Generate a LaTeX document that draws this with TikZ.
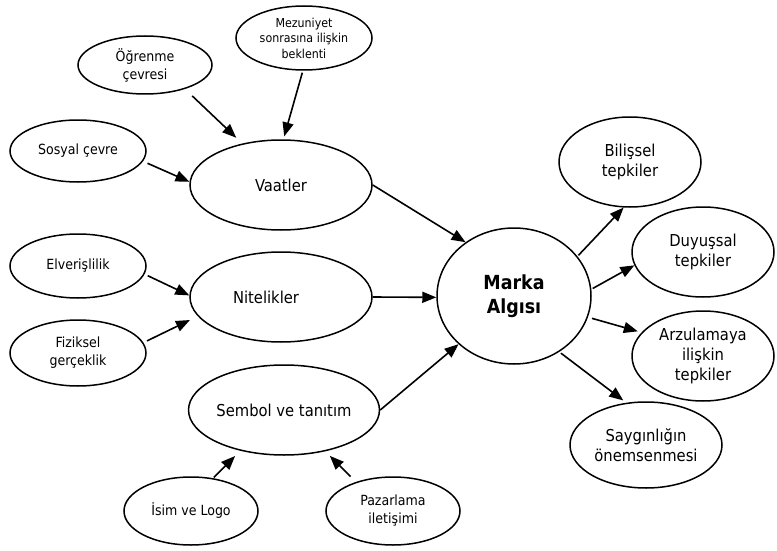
\documentclass[tikz,border=0pt]{standalone}
\usepackage{fontspec}
\setmainfont{DejaVu Sans Condensed}
\usetikzlibrary{shapes.geometric,arrows.meta}
\newcommand\szbig{\fontsize{16.4}{20}\selectfont}
\newcommand\szmid{\fontsize{14}{18}\selectfont}
\newcommand\szsmall{\fontsize{12.3}{15.5}\selectfont}
\newcommand\szmark{\fontsize{19.4}{24}\selectfont\bfseries}
\tikzset{
  ell/.style={draw, ellipse, line width=1.5pt, inner sep=0pt, align=center, font=\szbig},
  arr/.style={-{Triangle[length=14pt,width=11pt]}, line width=1.6pt},
}
\begin{document}
\begin{tikzpicture}[x=1pt,y=-1pt]
\useasboundingbox (0,0) rectangle (777,551);
% nodes
\node[ell, font=\szmid, minimum width=134pt, minimum height=58pt] (og) at (145,65) {Öğrenme\\çevresi};
\node[ell, font=\szsmall, minimum width=136pt, minimum height=64pt] (me) at (304,38) {Mezuniyet\\sonrasına ilişkin\\beklenti};
\node[ell, font=\szmid, minimum width=136pt, minimum height=62pt] (so) at (78,151) {Sosyal çevre};
\node[ell, minimum width=182pt, minimum height=90pt] (va) at (281,185) {Vaatler};
\node[ell, font=\szmid, minimum width=136pt, minimum height=64pt] (el) at (78,266) {Elverişlilik};
\node[ell, minimum width=182pt, minimum height=90pt] (ni) at (281,297) {Nitelikler\hspace*{30pt}};
\node[ell, font=\szmid, minimum width=136pt, minimum height=66pt] (fi) at (78,353) {Fiziksel\\gerçeklik};
\node[ell, minimum width=180pt, minimum height=90pt] (se) at (284,410) {Sembol ve tanıtım};
\node[ell, font=\szmid, minimum width=134pt, minimum height=68pt] (is) at (191,511) {İsim ve Logo};
\node[ell, font=\szmid, minimum width=134pt, minimum height=68pt] (pa) at (393,511) {Pazarlama\\iletişimi};
\node[ell, font=\szmark, minimum width=154pt, minimum height=136pt] (ma) at (514,296) {Marka\\Algısı};
\node[ell, minimum width=142pt, minimum height=90pt] (bi) at (630,162) {Bilişsel\\tepkiler};
\node[ell, minimum width=142pt, minimum height=90pt] (du) at (703,252) {Duyuşsal\\tepkiler};
\node[ell, minimum width=142pt, minimum height=90pt] (ar) at (703,356) {Arzulamaya\\ilişkin\\tepkiler};
\node[ell, minimum width=152pt, minimum height=86pt] (sa) at (646,445) {Saygınlığın\\önemsenmesi};
% connectors
\draw[arr, shorten <=10pt, shorten >=8.4pt] (og.-31.7) -- (va.133.1);
\draw[arr, shorten <=2pt, shorten >=3pt] (me.268.3) -- (va.87.6);
\draw[arr, shorten <=4.9pt] (so.-9.1) -- (va.178.7);
\draw[arr] (va.0.6) -- (ma.132.2);
\draw[arr, shorten <=3.5pt] (el.-7.4) -- (ni.179.4);
\draw[arr, shorten <=4pt, shorten >=8.7pt] (fi.9.1) -- (ni.193.7);
\draw[arr] (ni.0) -- (ma.181.5);
\draw[arr] (se.0) -- (ma.221.5);
\draw[arr, shorten <=1pt, shorten >=7.4pt] (is.56.3) -- (se.223.8);
\draw[arr, shorten <=7.6pt, shorten >=6.4pt] (pa.142.5) -- (se.-45.6);
\draw[arr, shorten <=1.3pt] (ma.32) -- (bi.262.4);
\draw[arr, shorten <=1.5pt] (ma.5.9) -- (du.191.3);
\draw[arr, shorten <=4.2pt, shorten >=3.9pt] (ma.-16.6) -- (ar.159.7);
\draw[arr, shorten <=2.1pt, shorten >=3.8pt] (ma.-51.1) -- (sa.115);
\end{tikzpicture}
\end{document}
